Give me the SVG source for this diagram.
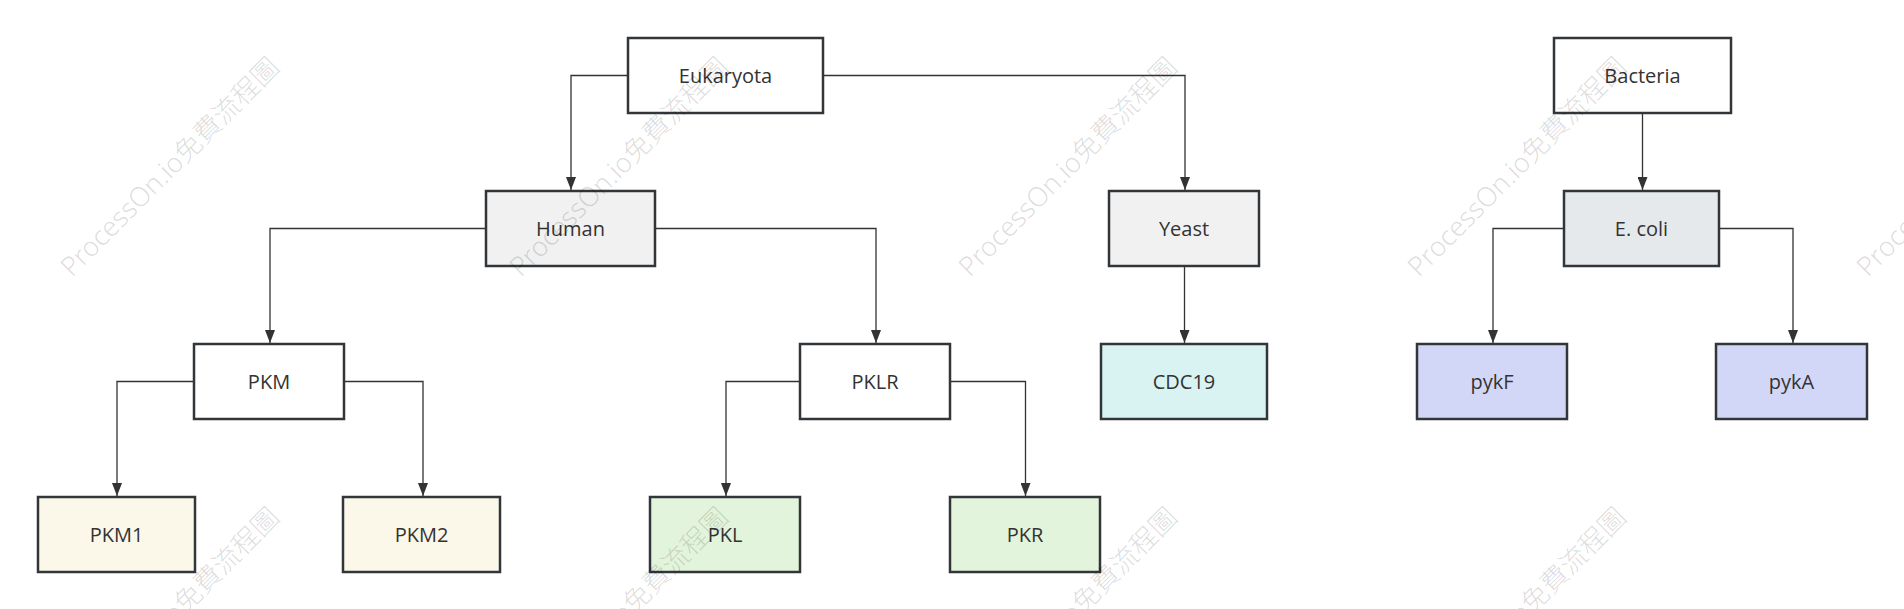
<svg xmlns="http://www.w3.org/2000/svg" width="1904" height="609" viewBox="0 0 1904 609">
<style>
.box{stroke:#323639;stroke-width:2.5}
.lbl{font-family:"Open Sans","Noto Sans",sans-serif;font-size:20px;fill:#333;text-anchor:middle}
.edge{fill:none;stroke:#333;stroke-width:1.3}
.wm{font-family:"Noto Sans","Noto Sans CJK TC",sans-serif;font-weight:300;font-size:27px;fill:#000;fill-opacity:0.15}
</style>
<defs>
<marker id="arr" viewBox="0 0 13 10" refX="13" refY="5" markerWidth="13" markerHeight="10" markerUnits="userSpaceOnUse" orient="auto">
<path d="M0,0 L13,5 L0,10 z" fill="#333"/>
</marker>
</defs>
<rect width="1904" height="609" fill="#fff"/>
<g id="connectors">
<path class="edge" marker-end="url(#arr)" d="M628,75.5 H571 V190"/>
<path class="edge" marker-end="url(#arr)" d="M823,75.5 H1185 V190"/>
<path class="edge" marker-end="url(#arr)" d="M1642.5,113 V190"/>
<path class="edge" marker-end="url(#arr)" d="M486,228.5 H270 V343"/>
<path class="edge" marker-end="url(#arr)" d="M655,228.5 H876 V343"/>
<path class="edge" marker-end="url(#arr)" d="M1184.5,266 V343"/>
<path class="edge" marker-end="url(#arr)" d="M1564,228.5 H1493 V343"/>
<path class="edge" marker-end="url(#arr)" d="M1719,228.5 H1793 V343"/>
<path class="edge" marker-end="url(#arr)" d="M194,381.5 H117 V496"/>
<path class="edge" marker-end="url(#arr)" d="M344,381.5 H423 V496"/>
<path class="edge" marker-end="url(#arr)" d="M800,381.5 H726 V496"/>
<path class="edge" marker-end="url(#arr)" d="M950,381.5 H1025.5 V496"/>
</g>
<g id="n-eukaryota"><rect class="box" x="628" y="38" width="195" height="75" fill="#fff"/><text class="lbl" x="725.5" y="83">Eukaryota</text></g>
<g id="n-bacteria"><rect class="box" x="1554" y="38" width="177" height="75" fill="#fff"/><text class="lbl" x="1642.5" y="83">Bacteria</text></g>
<g id="n-human"><rect class="box" x="486" y="191" width="169" height="75" fill="#f1f1f1"/><text class="lbl" x="570.5" y="236">Human</text></g>
<g id="n-yeast"><rect class="box" x="1109" y="191" width="150" height="75" fill="#f1f1f1"/><text class="lbl" x="1184" y="236">Yeast</text></g>
<g id="n-ecoli"><rect class="box" x="1564" y="191" width="155" height="75" fill="#e6e9ec"/><text class="lbl" x="1641.5" y="236">E. coli</text></g>
<g id="n-pkm"><rect class="box" x="194" y="344" width="150" height="75" fill="#fff"/><text class="lbl" x="269" y="389">PKM</text></g>
<g id="n-pklr"><rect class="box" x="800" y="344" width="150" height="75" fill="#fff"/><text class="lbl" x="875" y="389">PKLR</text></g>
<g id="n-cdc19"><rect class="box" x="1101" y="344" width="166" height="75" fill="#d9f3f3"/><text class="lbl" x="1184" y="389">CDC19</text></g>
<g id="n-pykf"><rect class="box" x="1417" y="344" width="150" height="75" fill="#d3d7f7"/><text class="lbl" x="1492" y="389">pykF</text></g>
<g id="n-pyka"><rect class="box" x="1716" y="344" width="151" height="75" fill="#d3d7f7"/><text class="lbl" x="1791.5" y="389">pykA</text></g>
<g id="n-pkm1"><rect class="box" x="38" y="497" width="157" height="75" fill="#fbf8ea"/><text class="lbl" x="116.5" y="542">PKM1</text></g>
<g id="n-pkm2"><rect class="box" x="343" y="497" width="157" height="75" fill="#fbf8ea"/><text class="lbl" x="421.5" y="542">PKM2</text></g>
<g id="n-pkl"><rect class="box" x="650" y="497" width="150" height="75" fill="#e3f4dc"/><text class="lbl" x="725" y="542">PKL</text></g>
<g id="n-pkr"><rect class="box" x="950" y="497" width="150" height="75" fill="#e3f4dc"/><text class="lbl" x="1025" y="542">PKR</text></g>
<g id="watermark">
<text class="wm" transform="translate(72,278) rotate(-45)">ProcessOn.io免費流程圖</text>
<text class="wm" transform="translate(521,278) rotate(-45)">ProcessOn.io免費流程圖</text>
<text class="wm" transform="translate(970,278) rotate(-45)">ProcessOn.io免費流程圖</text>
<text class="wm" transform="translate(1419,278) rotate(-45)">ProcessOn.io免費流程圖</text>
<text class="wm" transform="translate(1868,278) rotate(-45)">ProcessOn.io免費流程圖</text>
<text class="wm" transform="translate(72,728) rotate(-45)">ProcessOn.io免費流程圖</text>
<text class="wm" transform="translate(521,728) rotate(-45)">ProcessOn.io免費流程圖</text>
<text class="wm" transform="translate(970,728) rotate(-45)">ProcessOn.io免費流程圖</text>
<text class="wm" transform="translate(1419,728) rotate(-45)">ProcessOn.io免費流程圖</text>
</g>
</svg>
